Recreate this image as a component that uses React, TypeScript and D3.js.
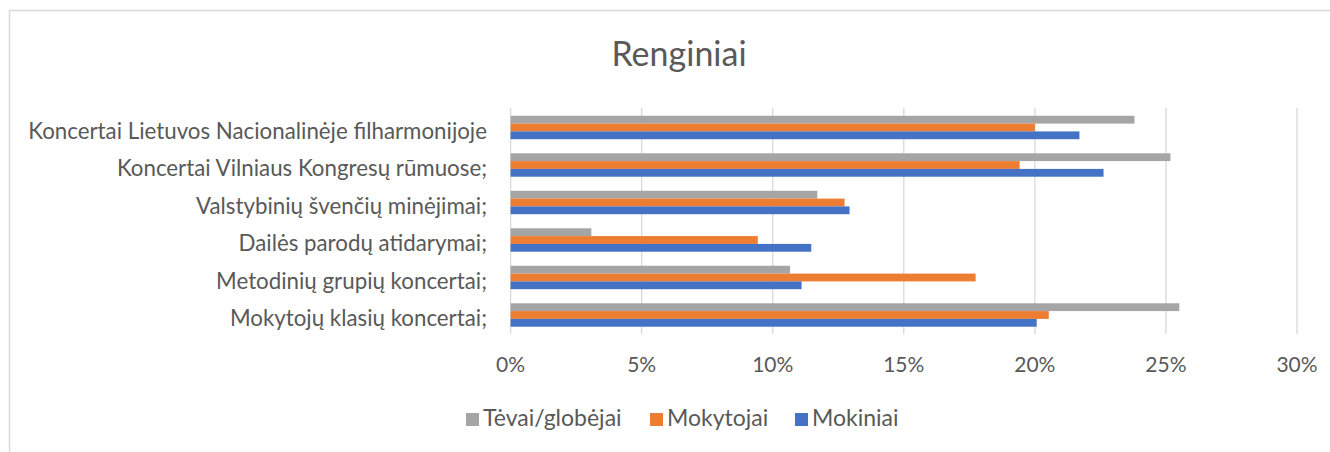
import React from "react";
import * as d3 from "d3";

const categories = [
  "Koncertai Lietuvos Nacionalinėje filharmonijoje",
  "Koncertai Vilniaus Kongresų rūmuose;",
  "Valstybinių švenčių minėjimai;",
  "Dailės parodų atidarymai;",
  "Metodinių grupių koncertai;",
  "Mokytojų klasių koncertai;",
];
const seriesNames = ["Tėvai/globėjai", "Mokytojai", "Mokiniai"];
const tevai = [0.238, 0.2517, 0.117, 0.0308, 0.1066, 0.2551];
const mokytojai = [0.2, 0.1942, 0.1274, 0.0943, 0.1774, 0.2053];
const mokiniai = [0.217, 0.2262, 0.1293, 0.1147, 0.111, 0.2007];
const xTicks = [0, 0.05, 0.1, 0.15, 0.2, 0.25, 0.3];
const colors = ["#A5A5A5", "#ED7D31", "#4472C4"];

const W = 1330;
const H = 452;
const FONT = "Lato, 'Open Sans', sans-serif";
const TEXT = "#595959";

export default function App() {
  const seriesValues = [tevai, mokytojai, mokiniai];
  const x = d3.scaleLinear().domain([0, 0.3]).range([510.6, 1297]);
  const y = d3
    .scaleBand<string>()
    .domain(categories)
    .range([108.75, 333.75])
    .paddingInner(0.375)
    .paddingOuter(0.1875);
  const ys = d3
    .scaleBand<string>()
    .domain(seriesNames)
    .range([0, y.bandwidth()]);
  const fmt = d3.format(".0%");
  const legendX = [466, 650, 795];

  return (
    <svg
      width={W}
      height={H}
      style={{ position: "absolute", left: 0, top: 0, background: "#fff" }}
      fontFamily={FONT}
    >
      <rect x={0} y={0} width={W} height={H} fill="#fff" />
      <rect
        x={9.5}
        y={10.5}
        width={W + 20}
        height={H + 20}
        fill="#fff"
        stroke="#D9D9D9"
        strokeWidth={1.5}
      />
      <text x={679} y={66} textAnchor="middle" fontSize={34} fill={TEXT}>
        Renginiai
      </text>
      {xTicks.map((t) => (
        <g key={t}>
          <line
            x1={x(t)}
            x2={x(t)}
            y1={108}
            y2={334}
            stroke="#D9D9D9"
            strokeWidth={1.3}
          />
          <text
            x={x(t)}
            y={372.3}
            textAnchor="middle"
            fontSize={21}
            fill={TEXT}
          >
            {fmt(t)}
          </text>
        </g>
      ))}
      {categories.map((c, i) => (
        <g key={c}>
          <text
            x={487}
            y={(y(c) as number) + y.bandwidth() / 2 + 11.3}
            textAnchor="end"
            fontSize={22.3}
            fill={TEXT}
          >
            {c}
          </text>
          {seriesNames.map((s, j) => (
            <rect
              key={s}
              x={x(0)}
              y={(y(c) as number) + (ys(s) as number)}
              width={x(seriesValues[j][i]) - x(0)}
              height={ys.bandwidth()}
              fill={colors[j]}
            />
          ))}
        </g>
      ))}
      {seriesNames.map((s, j) => (
        <g key={s} transform={`translate(${legendX[j]},426)`}>
          <rect x={0} y={-13} width={13} height={13} fill={colors[j]} />
          <text x={17} y={0} fontSize={23} fill={TEXT}>
            {s}
          </text>
        </g>
      ))}
    </svg>
  );
}
